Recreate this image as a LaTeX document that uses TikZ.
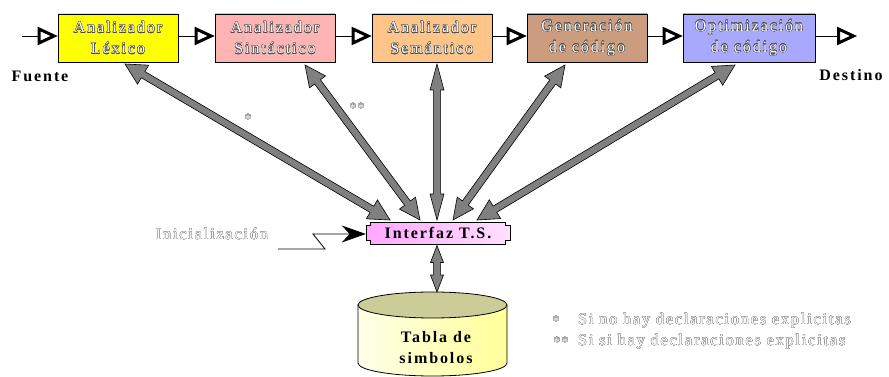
\documentclass[tikz,border=0pt]{standalone}
\usepackage{fontspec}
\setmainfont{Liberation Serif}[LetterSpace=12]
\usepackage[copies]{contour}
\contourlength{0.28pt}
\contournumber{16}
\usetikzlibrary{arrows.meta,calc}
\definecolor{arrgray}{HTML}{808080}
\definecolor{lexc}{HTML}{FFFF00}\definecolor{lexm}{HTML}{FFFFF0}
\definecolor{sinc}{HTML}{FFB4B4}\definecolor{sinm}{HTML}{FFF6F6}
\definecolor{semc}{HTML}{FFC488}\definecolor{semm}{HTML}{FFF6EE}
\definecolor{genc}{HTML}{CC9C7E}\definecolor{genm}{HTML}{FCF4F0}
\definecolor{optc}{HTML}{A8A8FF}\definecolor{optm}{HTML}{F6F6FF}
\definecolor{tsl}{HTML}{FFA8FF}\definecolor{tsr}{HTML}{FFE0FF}
\definecolor{cyltop}{HTML}{CCCC99}\definecolor{cyll}{HTML}{FFFFE8}\definecolor{cylr}{HTML}{FFFF99}
\newcommand\olw[1]{\contour{black!70}{#1}}
\newcommand\olg[1]{\contour{black!45}{#1}}
\newcommand\garrow[4]{%
  \coordinate (h1) at ($(#1)!#3!(#2)$);
  \coordinate (h2) at ($(#2)!#3!(#1)$);
  \filldraw[fill=arrgray, draw=black, line width=0.6pt, line join=miter]
   (#1) -- ($(h1)!#4!90:(#2)$) -- ($(h1)!3.6pt!90:(#2)$)
   -- ($(h2)!3.6pt!-90:(#1)$) -- ($(h2)!#4!-90:(#1)$) -- (#2)
   -- ($(h2)!#4!90:(#1)$) -- ($(h2)!3.6pt!90:(#1)$)
   -- ($(h1)!3.6pt!-90:(#2)$) -- ($(h1)!#4!-90:(#2)$) -- cycle;}
% flow connector with an open triangular head drawn at its end
\newcommand\flowarrow[2]{%
  \draw[line width=0.9pt] (#1) -- ($(#2)+(-18,0)$);
  \filldraw[fill=white, draw=black, line width=3pt, line join=miter, miter limit=4]
    ($(#2)+(-3.5,0)$) -- ++(-15,-7) -- ++(0,14) -- cycle;}
\begin{document}
\begin{tikzpicture}[x=1pt,y=-1pt,
  box/.style={draw=black, line width=0.8pt, minimum width=120pt, minimum height=48pt,
    inner sep=0pt, align=center, text=white, font=\fontsize{16}{21}\selectfont},
  lbl/.style={inner sep=0pt, font=\fontsize{16}{21}\selectfont\bfseries},
  thin/.style={inner sep=0pt, text=white, font=\fontsize{16}{21}\selectfont}]
\useasboundingbox (0,0) rectangle (889,377);
% pipeline boxes
\node[box, top color=lexc, middle color=lexm, bottom color=lexc] (lex) at (118,38) {\olw{Analizador}\\\olw{Léxico}};
\node[box, top color=sinc, middle color=sinm, bottom color=sinc] (sin) at (275,38) {\olw{Analizador}\\\olw{Sintáctico}};
\node[box, top color=semc, middle color=semm, bottom color=semc] (sem) at (432,38) {\olw{Analizador}\\\olw{Semántico}};
\node[box, top color=genc, middle color=genm, bottom color=genc] (gen) at (587,38) {\olw{Generación}\\\olw{de código}};
\node[box, minimum width=132pt, top color=optc, middle color=optm, bottom color=optc] (opt) at (749,38) {\olw{Optimización}\\\olw{de código}};
\coordinate (src) at (22,36);
\coordinate (dst) at (857,36);
\coordinate (o0) at (src);          \coordinate (i1) at (lex.west |- src);
\coordinate (o1) at (lex.east |- src); \coordinate (i2) at (sin.west |- src);
\coordinate (o2) at (sin.east |- src); \coordinate (i3) at (sem.west |- src);
\coordinate (o3) at (sem.east |- src); \coordinate (i4) at (gen.west |- src);
\coordinate (o4) at (gen.east |- src); \coordinate (i5) at (opt.west |- src);
\coordinate (o5) at (opt.east |- src);
\flowarrow{o0}{i1}
\flowarrow{o1}{i2}
\flowarrow{o2}{i3}
\flowarrow{o3}{i4}
\flowarrow{o4}{i5}
\flowarrow{o5}{dst}
\node[lbl] (fuente) at (40,76) {Fuente};
\node[lbl] (destino) at (851,75) {Destino};
% interface
\shade[left color=tsl, right color=tsr, draw=black, line width=0.8pt]
  (370,222) -- (505,222) -- (505,225.5) -- (510,225.5) -- (510,240.5) -- (505,240.5) -- (505,244)
  -- (370,244) -- (370,240.5) -- (366,240.5) -- (366,225.5) -- (370,225.5) -- cycle;
\node[lbl, minimum width=144pt, minimum height=22pt] (ts) at (438,233) {Interfaz T.S.};
% gray arrows
\coordinate (a1) at (125,64);  \coordinate (b1) at (390,220);
\coordinate (a2) at (305,65);  \coordinate (b2) at (420,220);
\coordinate (a3) at (437,64);  \coordinate (b3) at (437,220);
\coordinate (a4) at (565,65);  \coordinate (b4) at (453,220);
\coordinate (a5) at (735,65);  \coordinate (b5) at (477,220);
\garrow{a1}{b1}{21pt}{11pt}
\garrow{a2}{b2}{21pt}{10pt}
\garrow{a3}{b3}{26pt}{7pt}
\garrow{a4}{b4}{21pt}{10pt}
\garrow{a5}{b5}{21pt}{11pt}
% table of symbols
\coordinate (ttop) at (437,292);
\shade[left color=cyll, right color=cylr, draw=black, line width=0.8pt]
  (358,305) -- (358,363) arc[start angle=180, end angle=360, x radius=74.5pt, y radius=13pt] -- (507,305) -- cycle;
\filldraw[fill=cyltop, draw=black, line width=0.8pt] (432.5,305) ellipse[x radius=74.5pt, y radius=13pt];
\node[lbl, align=center] (tabla) at (436,348) {Tabla de\\simbolos};
\coordinate (tsb) at (437,245.5);
\garrow{tsb}{ttop}{17pt}{6.5pt}
% initialisation
\node[thin] (ini) at (212,234) {\olg{Inicialización}};
\coordinate (z1) at (278,249);
\coordinate (z2) at (325,249);
\coordinate (z3) at (313,234);
\draw[line width=0.8pt, -{Stealth[length=24pt, width=17pt]}] (z1) -- (z2) -- (z3) -- (ts.west |- z3);
% asterisks
\node[thin, font=\fontsize{13}{15}\selectfont] (s1) at (248,119) {\olg{*}};
\node[thin, font=\fontsize{13}{15}\selectfont] (s2) at (357,108) {\olg{**}};
% legend
\node[thin, font=\fontsize{13}{15}\selectfont] (l1s) at (556,321) {\olg{*}};
\node[thin, anchor=west] (l1) at (578,321) {\olg{Si no hay declaraciones explicitas}};
\node[thin, font=\fontsize{13}{15}\selectfont] (l2s) at (561,342) {\olg{**}};
\node[thin, anchor=west] (l2) at (578,342) {\olg{Si si hay declaraciones explicitas}};
\end{tikzpicture}
\end{document}
